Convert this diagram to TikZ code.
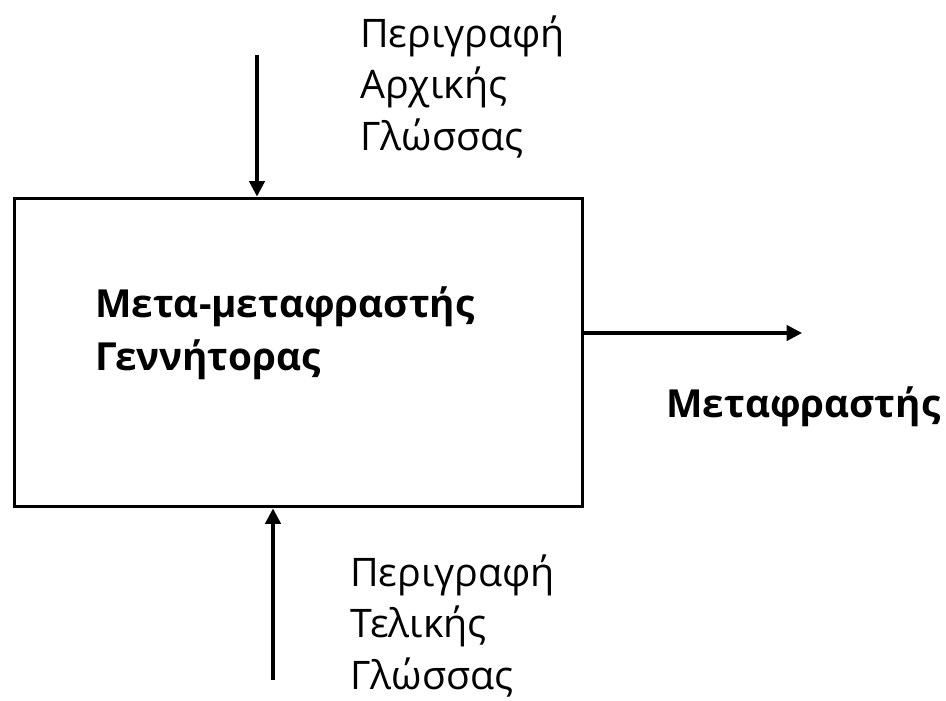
\documentclass[tikz,border=0pt]{standalone}
\usepackage{fontspec}
\setmainfont{Open Sans}
\usetikzlibrary{arrows.meta}
\begin{document}
\begin{tikzpicture}[x=0.75pt,y=-0.75pt,
  txt/.style={anchor=base west,inner sep=0pt,align=left,font=\fontsize{29.5pt}{38.5pt}\selectfont},
  btxt/.style={txt,font=\fontsize{29pt}{39.5pt}\selectfont\bfseries},
  arr/.style={line width=2.4pt,-{Triangle[length=11.5pt,width=11.5pt]}}]
\useasboundingbox (0,0) rectangle (946,700);
\node[draw,line width=2.6pt,minimum width=568.5*0.75pt,minimum height=308.5*0.75pt,inner sep=0pt,anchor=north west] (box) at (12.5,196.5) {};
\node[btxt] (gen) at (95,370) {Μετα-μεταφραστής\\Γεννήτορας};
\node[txt] (src) at (360,150) {Περιγραφή\\Αρχικής\\Γλώσσας};
\node[txt] (tgt) at (350,689) {Περιγραφή\\Τελικής\\Γλώσσας};
\node[btxt] (out) at (666,417) {Μεταφραστής};
\coordinate (a1) at (257,55);
\coordinate (a2) at (273,680);
\coordinate (a3) at (802,333);
\draw[arr] (a1) -- (a1 |- box.north);
\draw[arr] (a2) -- (a2 |- box.south);
\draw[arr] (box.east |- a3) -- (a3);
\end{tikzpicture}
\end{document}
